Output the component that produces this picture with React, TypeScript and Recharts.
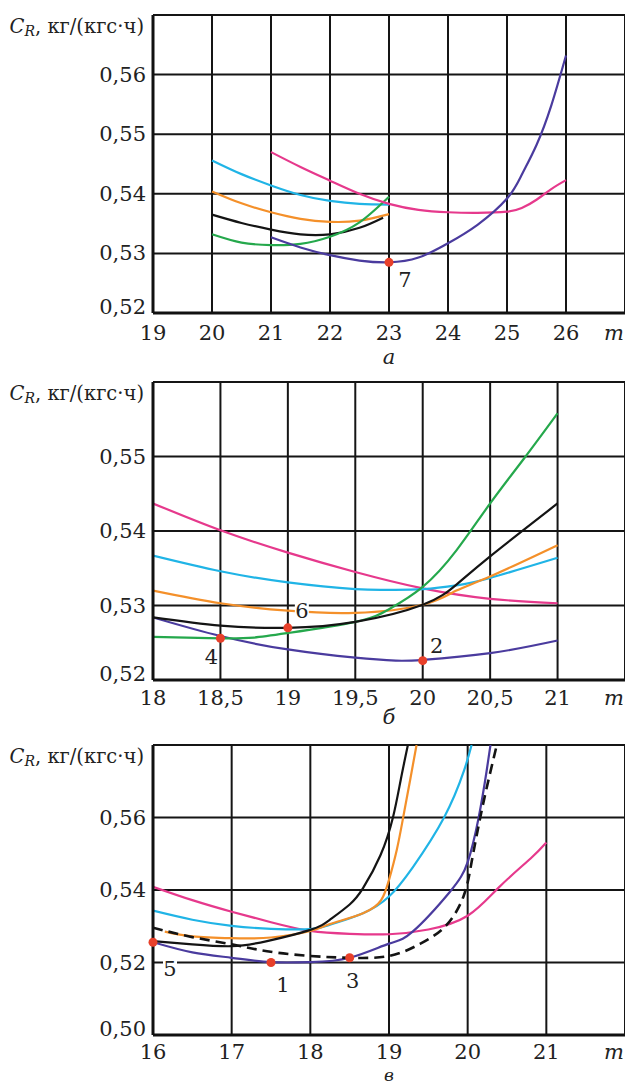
import React from 'react';
import { LineChart, Line, XAxis, YAxis, CartesianGrid, ReferenceDot, Label } from 'recharts';

// цвета кривых
const PINK = '#e6398c';
const CYAN = '#20b4e6';
const ORANGE = '#f4902a';
const BLACK = '#141414';
const GREEN = '#25a84c';
const PURPLE = '#4a3b9e';
const RED = '#e8402a';

// ---- а ----
const aXTicks = [19, 20, 21, 22, 23, 24, 25, 26, 27];
const aYTicks = [0.52, 0.53, 0.54, 0.55, 0.56, 0.57];
const aCyanX = [20, 20.5, 21, 21.5, 22, 22.5, 23];
const aCyanY = [0.5456, 0.5433, 0.5414, 0.5398, 0.5388, 0.5383, 0.5382];
const aOrangeX = [20, 20.5, 21, 21.5, 22, 22.5, 23];
const aOrangeY = [0.5404, 0.5384, 0.5369, 0.5358, 0.5353, 0.5355, 0.5366];
const aBlackX = [20, 20.5, 21, 21.5, 22, 22.5, 22.9];
const aBlackY = [0.5365, 0.5351, 0.534, 0.5332, 0.5332, 0.5343, 0.536];
const aGreenX = [20, 20.5, 21, 21.5, 22, 22.5, 23];
const aGreenY = [0.5332, 0.5318, 0.5314, 0.5316, 0.5328, 0.5352, 0.5395];
const aPurpleX = [21, 21.5, 22, 22.5, 23, 23.5, 24, 24.5, 25, 25.25, 25.5, 25.75, 26];
const aPurpleY = [0.5327, 0.531, 0.5297, 0.5288, 0.5285, 0.5293, 0.5317, 0.5348, 0.5392, 0.5432, 0.5482, 0.5548, 0.5632];
const aPinkX = [21, 21.5, 22, 22.5, 23, 23.5, 24, 24.5, 25, 25.25, 25.5, 25.75, 26];
const aPinkY = [0.547, 0.5445, 0.5422, 0.54, 0.5383, 0.5373, 0.5369, 0.5368, 0.537, 0.5376, 0.539, 0.5408, 0.5423];
const aMarks = [{ x: 23, y: 0.5285, n: '7' }];

// ---- б ----
const bXTicks = [18, 18.5, 19, 19.5, 20, 20.5, 21, 21.5];
const bYTicks = [0.52, 0.53, 0.54, 0.55, 0.56];
const bPinkX = [18, 18.5, 19, 19.5, 20, 20.5, 21];
const bPinkY = [0.5437, 0.5401, 0.5371, 0.5345, 0.5323, 0.5309, 0.5303];
const bCyanX = [18, 18.5, 19, 19.5, 19.75, 20, 20.25, 20.5, 21];
const bCyanY = [0.5367, 0.5346, 0.5331, 0.5322, 0.5321, 0.5322, 0.5327, 0.5337, 0.5364];
const bOrangeX = [18, 18.5, 19, 19.5, 20, 20.25, 20.5, 21];
const bOrangeY = [0.532, 0.5303, 0.5293, 0.529, 0.5301, 0.532, 0.5339, 0.5381];
const bBlackX = [18, 18.5, 19, 19.5, 20, 20.25, 20.5, 21];
const bBlackY = [0.5284, 0.5273, 0.527, 0.5278, 0.5301, 0.5328, 0.5366, 0.5437];
const bGreenX = [18, 18.5, 18.75, 19, 19.5, 19.75, 20, 20.25, 20.5, 20.75, 21];
const bGreenY = [0.5258, 0.5256, 0.5257, 0.5263, 0.5278, 0.5295, 0.5325, 0.5374, 0.5437, 0.5497, 0.5558];
const bPurpleX = [18, 18.5, 19, 19.5, 19.8, 20, 20.5, 21];
const bPurpleY = [0.5284, 0.5259, 0.5241, 0.523, 0.5226, 0.5227, 0.5236, 0.5253];
const bMarks = [
  { x: 18.5, y: 0.5256, n: '4' },
  { x: 19, y: 0.527, n: '6' },
  { x: 20, y: 0.5226, n: '2' },
];

// ---- в ----
const cXTicks = [16, 17, 18, 19, 20, 21, 22];
const cYTicks = [0.5, 0.52, 0.54, 0.56, 0.58];
const cPinkX = [16, 16.5, 17, 17.5, 18, 18.5, 19, 19.5, 20, 20.4, 20.8, 21];
const cPinkY = [0.5409, 0.5372, 0.534, 0.5311, 0.5287, 0.5279, 0.5278, 0.5291, 0.5329, 0.5408, 0.5487, 0.5531];
const cCyanX = [16, 16.5, 17, 17.5, 18, 18.25, 18.67, 19, 19.3, 19.7, 19.95, 20.05];
const cCyanY = [0.5343, 0.5318, 0.5301, 0.5293, 0.5292, 0.5304, 0.5336, 0.5382, 0.5462, 0.56, 0.5727, 0.58];
const cOrangeX = [16.15, 16.5, 17, 17.5, 18, 18.25, 18.67, 18.9, 19, 19.1, 19.18, 19.27, 19.35];
const cOrangeY = [0.5285, 0.5272, 0.5267, 0.5269, 0.5287, 0.5306, 0.5336, 0.5372, 0.5428, 0.5512, 0.56, 0.5705, 0.58];
const cBlackX = [16, 16.5, 17, 17.45, 18, 18.25, 18.5, 18.67, 18.89, 19.05, 19.15, 19.24];
const cBlackY = [0.5259, 0.525, 0.5245, 0.5259, 0.529, 0.5318, 0.536, 0.5405, 0.5495, 0.56, 0.5705, 0.58];
const cPurpleX = [16, 16.5, 17, 17.5, 18, 18.5, 19, 19.3, 19.77, 20, 20.14, 20.24, 20.29];
const cPurpleY = [0.5256, 0.5228, 0.5213, 0.5201, 0.5201, 0.5213, 0.5252, 0.5285, 0.5394, 0.5477, 0.56, 0.5727, 0.58];
const cDashX = [16, 16.5, 17, 17.45, 18, 18.5, 19, 19.4, 19.73, 19.95, 20.05, 20.16, 20.26, 20.37];
const cDashY = [0.5296, 0.527, 0.525, 0.5231, 0.5218, 0.5213, 0.5218, 0.5252, 0.5303, 0.5384, 0.5477, 0.56, 0.5699, 0.58];
const cMarks = [
  { x: 16, y: 0.5256, n: '5' },
  { x: 17.5, y: 0.52, n: '1' },
  { x: 18.5, y: 0.5213, n: '3' },
];

// смещения подписей точек
const markOffset: Record<string, [number, number]> = {
  '7': [16, 18],
  '4': [-9, 19],
  '6': [14, -17],
  '2': [14, -15],
  '5': [17, 27],
  '1': [12, 22],
  '3': [3, 23],
};

const FONT = 'DejaVu Serif';

const pts = (xs: number[], ys: number[]) => xs.map((x, i) => ({ x, y: ys[i] }));
const fmtX = (v: number) => String(v).replace('.', ',');
const fmtY = (v: number) => v.toFixed(2).replace('.', ',');

type Series = { data: { x: number; y: number }[]; color: string; dashed?: boolean };

type PanelProps = {
  top: number;
  height: number;
  plotTop: number;
  axisH: number;
  xTicks: number[];
  yTicks: number[];
  xLabels: number[];
  series: Series[];
  marks: { x: number; y: number; n: string }[];
  letter: string;
  letterDy: number;
  letterSize: number;
  tickDy: number;
};

function Title(props: any) {
  const vb = props.viewBox || { x: 0, y: 0, width: 153 };
  return (
    <text
      x={vb.x + vb.width - 9}
      y={vb.y + 11}
      textAnchor="end"
      dominantBaseline="central"
      fontFamily={FONT}
      fontSize={19.5}
      fill="#222"
    >
      <tspan fontStyle="italic">C</tspan>
      <tspan fontStyle="italic" fontSize={14} dy={5}>R</tspan>
      <tspan dy={-5}>, кг/(кгс·ч)</tspan>
    </text>
  );
}

function Panel(p: PanelProps) {
  const xMin = p.xTicks[0];
  const xMax = p.xTicks[p.xTicks.length - 1];
  const yMin = p.yTicks[0];
  const yMax = p.yTicks[p.yTicks.length - 1];

  const xTick = (t: any) => {
    const v = t.payload.value;
    if (v === xMax) {
      return (
        <text x={t.x - 21} y={t.y + p.tickDy} dominantBaseline="central" fontFamily={FONT} fontSize={21} fontStyle="italic" fill="#222">
          m
        </text>
      );
    }
    if (!p.xLabels.includes(v)) return <g />;
    return (
      <text x={t.x} y={t.y + p.tickDy} textAnchor="middle" dominantBaseline="central" fontFamily={FONT} fontSize={21} fill="#222">
        {fmtX(v)}
      </text>
    );
  };

  const yTick = (t: any) => {
    const v = t.payload.value;
    if (v === yMax) return <g />;
    return (
      <text
        x={t.x - 7}
        y={t.y + (v === yMin ? -6 : 0)}
        textAnchor="end"
        dominantBaseline="central"
        fontFamily={FONT}
        fontSize={21}
        fill="#222"
      >
        {fmtY(v)}
      </text>
    );
  };

  const markLabel = (n: string) => (lp: any) => {
    const vb = lp.viewBox || { x: 0, y: 0, width: 0, height: 0 };
    const cx = vb.x + (vb.width || 0) / 2 + markOffset[n][0];
    const cy = vb.y + (vb.height || 0) / 2 + markOffset[n][1];
    return (
      <g>
        <rect x={cx - 7} y={cy - 11} width={14} height={22} fill="#fff" />
        <text x={cx} y={cy} textAnchor="middle" dominantBaseline="central" fontFamily={FONT} fontSize={21} fill="#222">
          {n}
        </text>
      </g>
    );
  };

  const letterLabel = (lp: any) => {
    const vb = lp.viewBox || { x: 153, y: 0, width: 472 };
    return (
      <text
        x={vb.x + vb.width / 2}
        y={vb.y + p.letterDy}
        textAnchor="middle"
        dominantBaseline="central"
        fontFamily={FONT}
        fontSize={p.letterSize}
        fontStyle="italic"
        fill="#222"
      >
        {p.letter}
      </text>
    );
  };

  return (
    <div style={{ position: 'absolute', left: 0, top: p.top }}>
      <LineChart width={625} height={p.height} margin={{ top: p.plotTop, right: 0, bottom: 0, left: 0 }}>
        <CartesianGrid stroke="#151515" strokeWidth={2} />
        <XAxis
          type="number"
          dataKey="x"
          domain={[xMin, xMax]}
          ticks={p.xTicks}
          allowDataOverflow
          height={p.axisH}
          tickSize={0}
          tickMargin={0}
          tickLine={false}
          interval={0}
          axisLine={{ stroke: '#111', strokeWidth: 3 }}
          tick={xTick}
        >
          <Label content={letterLabel} />
        </XAxis>
        <YAxis
          type="number"
          dataKey="y"
          domain={[yMin, yMax]}
          ticks={p.yTicks}
          allowDataOverflow
          width={153}
          tickSize={0}
          tickMargin={0}
          tickLine={false}
          interval={0}
          axisLine={{ stroke: '#111', strokeWidth: 3 }}
          tick={yTick}
        >
          <Label content={Title} />
        </YAxis>
        {p.series.map((s, i) => (
          <Line
            key={i}
            data={s.data}
            dataKey="y"
            type="natural"
            stroke={s.color}
            strokeWidth={s.dashed ? 2.6 : 2.2}
            strokeDasharray={s.dashed ? '10 6' : undefined}
            dot={false}
            activeDot={false}
            isAnimationActive={false}
          />
        ))}
        {p.marks.map((m) => (
          <ReferenceDot
            key={m.n}
            x={m.x}
            y={m.y}
            r={4.5}
            fill={RED}
            stroke="none"
            ifOverflow="visible"
            label={<Label content={markLabel(m.n)} />}
          />
        ))}
      </LineChart>
    </div>
  );
}

export default function App() {
  const aSeries: Series[] = [
    { data: pts(aCyanX, aCyanY), color: CYAN },
    { data: pts(aOrangeX, aOrangeY), color: ORANGE },
    { data: pts(aBlackX, aBlackY), color: BLACK },
    { data: pts(aGreenX, aGreenY), color: GREEN },
    { data: pts(aPinkX, aPinkY), color: PINK },
    { data: pts(aPurpleX, aPurpleY), color: PURPLE },
  ];
  const bSeries: Series[] = [
    { data: pts(bPinkX, bPinkY), color: PINK },
    { data: pts(bCyanX, bCyanY), color: CYAN },
    { data: pts(bOrangeX, bOrangeY), color: ORANGE },
    { data: pts(bPurpleX, bPurpleY), color: PURPLE },
    { data: pts(bGreenX, bGreenY), color: GREEN },
    { data: pts(bBlackX, bBlackY), color: BLACK },
  ];
  const cSeries: Series[] = [
    { data: pts(cPinkX, cPinkY), color: PINK },
    { data: pts(cCyanX, cCyanY), color: CYAN },
    { data: pts(cOrangeX, cOrangeY), color: ORANGE },
    { data: pts(cPurpleX, cPurpleY), color: PURPLE },
    { data: pts(cDashX, cDashY), color: BLACK, dashed: true },
    { data: pts(cBlackX, cBlackY), color: BLACK },
  ];

  return (
    <div style={{ position: 'absolute', left: 0, top: 0, width: 625, height: 1084, background: '#fff', overflow: 'hidden' }}>
      <Panel
        top={0}
        height={370}
        plotTop={15}
        axisH={57}
        xTicks={aXTicks}
        yTicks={aYTicks}
        xLabels={[19, 20, 21, 22, 23, 24, 25, 26]}
        series={aSeries}
        marks={aMarks}
        letter="а"
        letterDy={44}
        letterSize={21}
        tickDy={20}
      />
      <Panel
        top={370}
        height={360}
        plotTop={12}
        axisH={50}
        xTicks={bXTicks}
        yTicks={bYTicks}
        xLabels={[18, 18.5, 19, 19.5, 20, 20.5, 21]}
        series={bSeries}
        marks={bMarks}
        letter="б"
        letterDy={37}
        letterSize={21}
        tickDy={18}
      />
      <Panel
        top={730}
        height={354}
        plotTop={15}
        axisH={49}
        xTicks={cXTicks}
        yTicks={cYTicks}
        xLabels={[16, 17, 18, 19, 20, 21]}
        series={cSeries}
        marks={cMarks}
        letter="в"
        letterDy={40}
        letterSize={17}
        tickDy={17}
      />
    </div>
  );
}
